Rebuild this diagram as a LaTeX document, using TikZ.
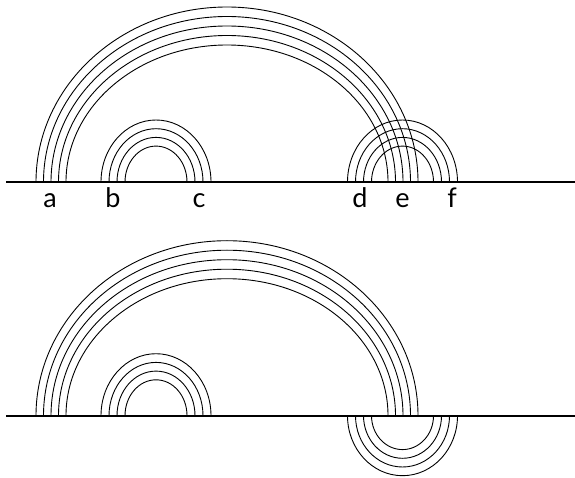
\documentclass[tikz,border=0pt]{standalone}
\usepackage{fontspec}
\setmainfont{Lato}
\begin{document}
\begin{tikzpicture}[x = 1pt, y = 1pt, ground/.style={line width=1.9pt}, strand/.style={line width=0.9pt}, lbl/.style={anchor=base, font=\fontsize{27}{30}\selectfont}]
        \useasboundingbox (0, 0) rectangle (575, 477);

        % upper line
        \coordinate (lu) at (6, 295);
        \coordinate (ru) at (575, 295);
        \coordinate (aeu) at (227, 295);
        \coordinate (bcu) at (156, 295);
        \coordinate (dfu) at (402.5, 295);

        % lower line
        \coordinate (ll) at (6, 61.3);
        \coordinate (rl) at (575, 61.3);
        \coordinate (ael) at (227, 61.3);
        \coordinate (bcl) at (156, 61.3);
        \coordinate (dfl) at (402.5, 61.3);

        \node[lbl] at (50, 269.5) (a){a};
        \node[lbl] at (113, 269.5) (b){b};
        \node[lbl] at (199, 269.5) (c){c};
        \node[lbl] at (360, 269.5) (d){d};
        \node[lbl] at (402.5, 269.5) (e){e};
        \node[lbl] at (452, 269.5) (f){f};

        \foreach \k in {0,...,4} {
            \draw[strand] (aeu) ++(191-7.5*\k, 0) arc[start angle=0, end angle=180, x radius=191-7.5*\k, y radius=175-9.5*\k];
            \draw[strand] (ael) ++(191-7.5*\k, 0) arc[start angle=0, end angle=180, x radius=191-7.5*\k, y radius=175-9.5*\k];
        }
        \foreach \k in {0,...,3} {
            \draw[strand] (bcu) ++(55-8*\k, 0) arc[start angle=0, end angle=180, x radius=55-8*\k, y radius=62-8.7*\k];
            \draw[strand] (bcl) ++(55-8*\k, 0) arc[start angle=0, end angle=180, x radius=55-8*\k, y radius=62-8.7*\k];
            \draw[strand] (dfu) ++(55-8*\k, 0) arc[start angle=0, end angle=180, x radius=55-8*\k, y radius=62-8.7*\k];
            \draw[strand] (dfl) ++(55-8*\k, 0) arc[start angle=0, end angle=-180, x radius=55-8*\k, y radius=60-8.7*\k];
        }

        \draw[ground] (lu) -- (ru);
        \draw[ground] (ll) -- (rl);
\end{tikzpicture}
\end{document}
